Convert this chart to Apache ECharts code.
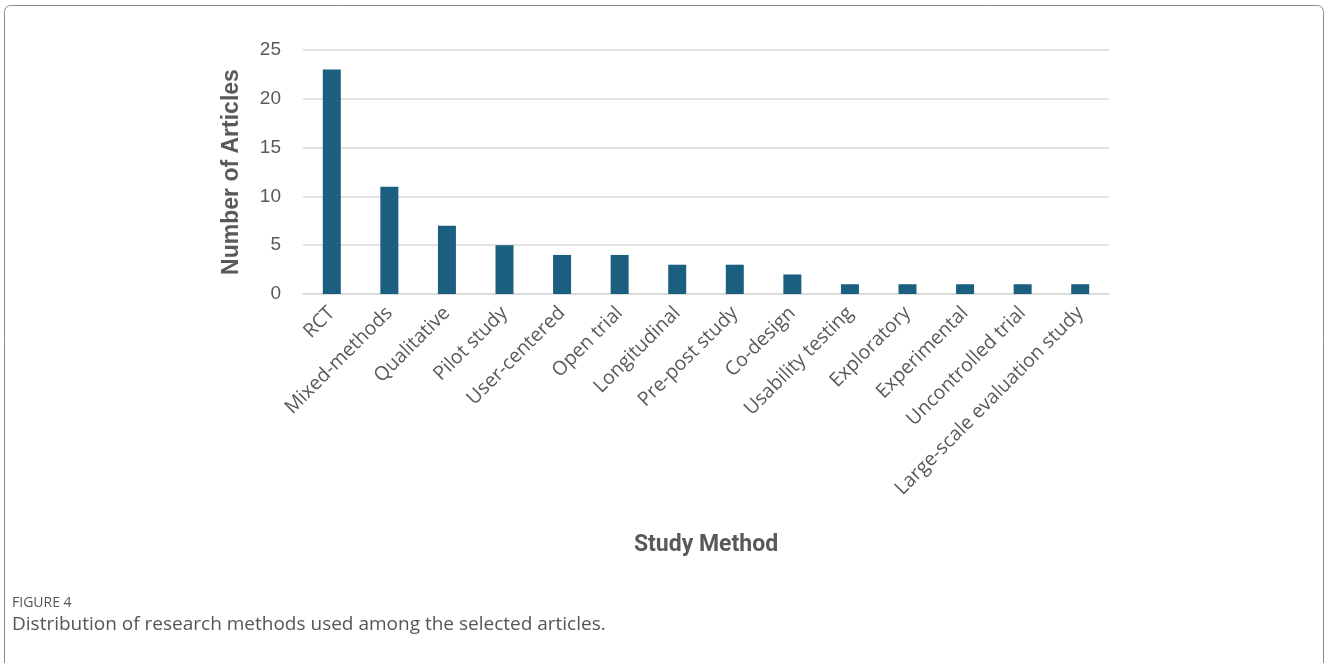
<!DOCTYPE html>
<html><head><meta charset="utf-8">
<script src="https://cdn.jsdelivr.net/npm/echarts@6/dist/echarts.min.js"></script>
<style>html,body{margin:0;padding:0;background:#fff}#c{width:1328px;height:663px}</style>
</head><body><div id="c"></div>
<script>
const categories = ["RCT","Mixed-methods","Qualitative","Pilot study","User-centered","Open trial","Longitudinal","Pre-post study","Co-design","Usability testing","Exploratory","Experimental","Uncontrolled trial","Large-scale evaluation study"];
const articleCounts = [23,11,7,5,4,4,3,3,2,1,1,1,1,1];
const yTicks = [0,5,10,15,20,25];

const chart = echarts.init(document.getElementById('c'), null, {renderer:'canvas'});
chart.setOption({
  animation:false,
  backgroundColor:'#fff',
  graphic:[
    {type:'rect', shape:{x:4.5,y:5.5,width:1319,height:680,r:6}, style:{fill:'none',stroke:'#8a8a8a',lineWidth:1}},
    {type:'text', left:12, top:596, style:{text:'FIGURE 4', font:'14px "Open Sans", sans-serif', fill:'#555'}},
    {type:'text', left:12, top:615, style:{text:'Distribution of research methods used among the selected articles.', font:'19px "Open Sans", sans-serif', fill:'#555'}}
  ],
  grid:{left:303, right:219, top:50, bottom:369, containLabel:false},
  xAxis:{
    type:'category', data:categories,
    name:'Study Method', nameLocation:'middle', nameGap:240,
    nameTextStyle:{fontFamily:'Roboto', fontWeight:'bold', fontSize:23, color:'#595959'},
    axisLine:{lineStyle:{color:'#d9d9d9', width:1.5}},
    axisTick:{show:false},
    axisLabel:{rotate:45, interval:0, fontFamily:'"Open Sans", sans-serif', fontSize:19.5, color:'#595959', margin:16}
  },
  yAxis:{
    type:'value', min:0, max:25, interval:5,
    name:'Number of Articles', nameLocation:'middle', nameGap:60,
    nameTextStyle:{fontFamily:'"Liberation Sans", Arial, sans-serif', fontWeight:'bold', fontSize:23, color:'#595959'},
    axisLine:{show:false}, axisTick:{show:false},
    axisLabel:{fontFamily:'"Liberation Sans", Arial, sans-serif', fontSize:19, color:'#595959', margin:22,
      formatter:v=>yTicks.includes(v)?String(v):''},
    splitLine:{lineStyle:{color:'#d9d9d9', width:1.5}}
  },
  series:[{type:'bar', data:articleCounts, barWidth:18, itemStyle:{color:'#1a5e80'}}]
});
</script></body></html>
